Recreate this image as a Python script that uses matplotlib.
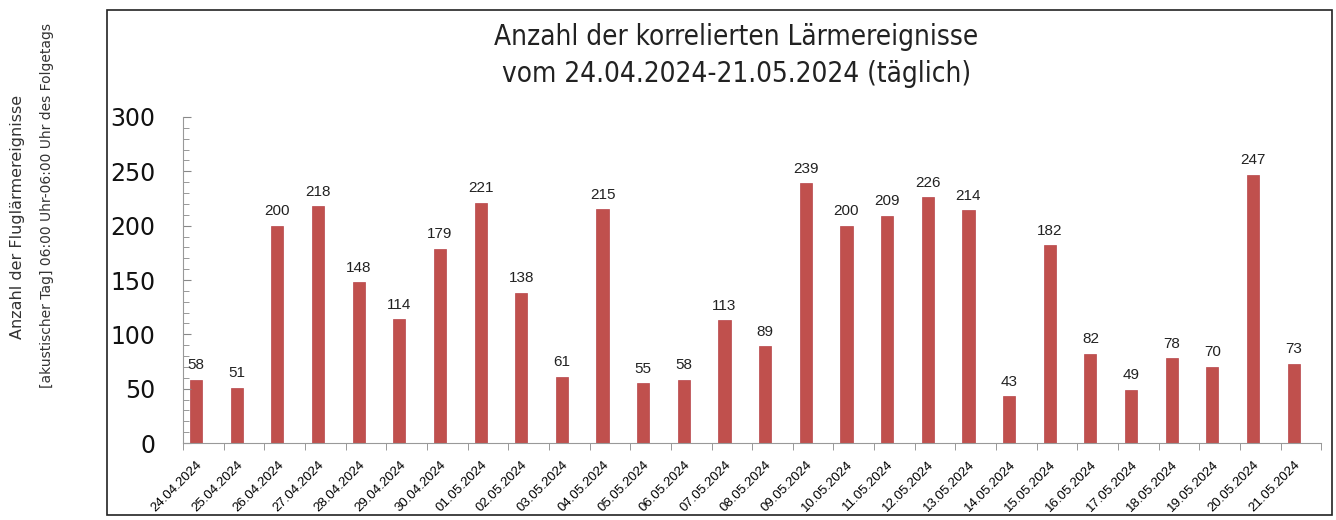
import matplotlib
matplotlib.use('Agg')
import matplotlib.pyplot as plt
from matplotlib.patches import Rectangle
from matplotlib.ticker import MultipleLocator, FixedLocator

# daily counts of correlated noise events
dates = ['24.04.2024', '25.04.2024', '26.04.2024', '27.04.2024', '28.04.2024',
         '29.04.2024', '30.04.2024', '01.05.2024', '02.05.2024', '03.05.2024',
         '04.05.2024', '05.05.2024', '06.05.2024', '07.05.2024', '08.05.2024',
         '09.05.2024', '10.05.2024', '11.05.2024', '12.05.2024', '13.05.2024',
         '14.05.2024', '15.05.2024', '16.05.2024', '17.05.2024', '18.05.2024',
         '19.05.2024', '20.05.2024', '21.05.2024']
counts = [58, 51, 200, 218, 148, 114, 179, 221, 138, 61, 215, 55, 58, 113, 89,
          239, 200, 209, 226, 214, 43, 182, 82, 49, 78, 70, 247, 73]

title_lines = ['Anzahl der korrelierten Lärmereignisse',
               'vom 24.04.2024-21.05.2024 (täglich)']
ylabel_lines = ['Anzahl der Fluglärmereignisse',
                '[akustischer Tag] 06:00 Uhr-06:00 Uhr des Folgetags']

fig = plt.figure(figsize=(13.36, 5.2), dpi=100)
ax = fig.add_axes([0.137, 0.148, 0.852, 0.627])

offset = -0.18
xs = [i + offset for i in range(len(counts))]
ax.bar(xs, counts, width=0.3, color='#C0504D', edgecolor='#B8454A', linewidth=0.5)
for x, v in zip(xs, counts):
    ax.text(x, v + 7, str(v), ha='center', va='bottom', fontsize=11,
            family='Liberation Sans', color='#222222')

ax.set_xlim(-0.5, len(counts) - 0.5)
ax.set_ylim(0, 300)

# y axis
ax.yaxis.set_major_locator(MultipleLocator(50))
ax.yaxis.set_minor_locator(MultipleLocator(10))
ax.tick_params(axis='y', which='both', direction='in', colors='#888888',
               labelcolor='#111111', labelsize=17, pad=20)
ax.tick_params(axis='y', which='major', length=6)
ax.tick_params(axis='y', which='minor', length=4)

# x axis
ax.set_xticks(xs)
ax.set_xticklabels(dates, rotation=45, ha='right', rotation_mode='anchor',
                   fontsize=9.5, family='Liberation Sans')
ax.tick_params(axis='x', which='major', length=0, pad=11)
ax.xaxis.set_minor_locator(FixedLocator([i - 0.5 for i in range(len(counts) + 1)]))
ax.tick_params(axis='x', which='minor', length=5, direction='out', color='#888888')

for s in ['top', 'right']:
    ax.spines[s].set_visible(False)
for s in ['left', 'bottom']:
    ax.spines[s].set_color('#999999')

# titles and axis label
fig.text(0.551, 0.928, title_lines[0], ha='center', va='center', fontsize=20,
         fontstretch='condensed', color='#222222')
fig.text(0.551, 0.858, title_lines[1], ha='center', va='center', fontsize=20,
         fontstretch='condensed', color='#222222')
fig.text(0.013, 0.583, ylabel_lines[0], rotation=90, ha='center', va='center',
         fontsize=11.5, color='#333333')
fig.text(0.035, 0.605, ylabel_lines[1], rotation=90, ha='center', va='center',
         fontsize=10, color='#333333')

# outer frame around the chart area
fig.patches.append(Rectangle((0.080, 0.01), 0.917, 0.97, transform=fig.transFigure,
                             fill=False, edgecolor='#222222', linewidth=1.2))

fig.savefig('out.png', dpi=100)
